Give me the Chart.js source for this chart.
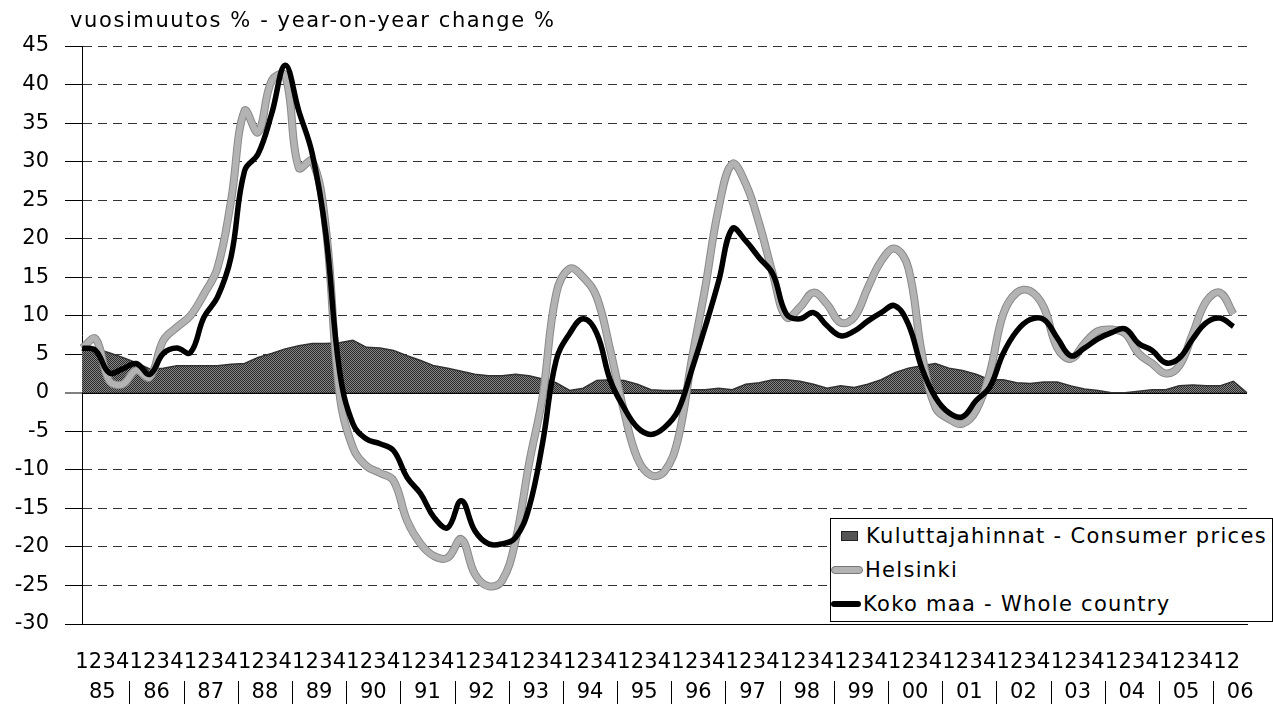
<!DOCTYPE html>
<html>
<head>
<meta charset="utf-8">
<script src="https://cdn.jsdelivr.net/npm/chart.js@4.4.1/dist/chart.umd.min.js"></script>
<style>
  body { margin: 0; background: #fff; }
  #wrap { position: relative; width: 1273px; height: 705px; font-family: "DejaVu Sans", sans-serif; color: #000; }
  #title { position: absolute; left: 70px; top: 8px; font-size: 21px; letter-spacing: 1.6px; white-space: nowrap; }
  #legend { position: absolute; left: 830px; top: 518px; width: 441px; height: 102px; border: 1px solid #000; background: #fff; font-size: 21px; }
  #legend .item { height: 34px; display: flex; align-items: center; white-space: nowrap; letter-spacing: 1.3px; }
  #legend .mark { display: inline-block; width: 30px; margin-right: 2px; }
</style>
</head>
<body>
<div id="wrap">
  <canvas id="chart" width="1273" height="705"></canvas>
  <div id="title">vuosimuutos % - year-on-year change %</div>
  <div id="legend"></div>
</div>
<script>
// years shown under the quarter digits (1985 Q1 .. 2006 Q2)
const years = ['85','86','87','88','89','90','91','92','93','94','95',
               '96','97','98','99','00','01','02','03','04','05','06'];
const quartersInLastYear = 2;

// Kuluttajahinnat - Consumer prices (area), last point closes the area at the right edge
const consumerPrices = [
  5.5, 5.7, 5.2, 4.6, 3.9, 3.1, 3.2, 3.5, 3.5, 3.5,
  3.5, 3.7, 3.8, 4.6, 5.1, 5.7, 6.1, 6.4, 6.4, 6.5,
  6.8, 5.9, 5.8, 5.5, 4.8, 4.2, 3.5, 3.2, 2.8, 2.4,
  2.2, 2.2, 2.4, 2.2, 1.8, 1.3, 0.3, 0.6, 1.6, 1.7,
  1.6, 1.1, 0.4, 0.3, 0.3, 0.4, 0.4, 0.6, 0.4, 1.1,
  1.3, 1.7, 1.7, 1.5, 1.1, 0.6, 0.9, 0.7, 1.1, 1.7,
  2.6, 3.2, 3.5, 3.8, 3.2, 2.9, 2.4, 1.7, 1.7, 1.3,
  1.2, 1.4, 1.4, 0.9, 0.5, 0.3, 0.0, 0.0, 0.2, 0.4,
  0.4, 0.9, 1.0, 0.9, 0.9, 1.5, 0
];

// Helsinki
const helsinki = [
  5.8, 7.0, 1.6, 1.1, 2.9, 2.0, 6.8, 8.5, 10.0, 12.8,
  16.2, 24.9, 36.6, 33.8, 40.5, 41.2, 29.2, 30.1, 21.4, 0.0,
  -7.1, -9.5, -10.4, -11.4, -16.6, -19.6, -21.2, -21.4, -19.0, -23.5,
  -25.1, -24.4, -19.2, -9.2, -0.5, 12.8, 16.1, 15.0, 12.4, 5.5,
  -2.3, -8.5, -10.7, -10.2, -6.0, 4.2, 13.6, 24.0, 29.7, 27.1,
  21.9, 15.4, 9.8, 11.1, 13.0, 11.5, 9.1, 9.8, 13.6, 17.1,
  18.7, 16.2, 5.1, -1.9, -3.4, -4.0, -2.3, 2.5, 10.2, 13.0,
  13.2, 11.1, 5.8, 4.4, 6.4, 8.0, 8.2, 7.7, 5.1, 3.8,
  2.5, 3.5, 7.7, 11.9, 13.0, 10.2
];

// Koko maa - Whole country
const wholeCountry = [
  5.8, 5.5, 2.6, 3.1, 3.8, 2.4, 5.1, 5.8, 5.2, 9.8,
  12.4, 17.6, 28.8, 31.0, 36.2, 42.5, 36.6, 31.0, 20.6, 3.0,
  -4.0, -6.0, -6.6, -7.5, -11.0, -13.1, -16.2, -17.5, -14.0, -17.9,
  -19.6, -19.6, -18.8, -14.9, -6.5, 4.2, 7.7, 9.6, 7.7, 1.6,
  -1.9, -4.5, -5.4, -4.5, -2.3, 2.9, 8.5, 14.5, 21.3, 19.7,
  17.5, 15.4, 10.2, 9.6, 10.4, 8.7, 7.4, 8.0, 9.3, 10.4,
  11.3, 8.9, 3.2, -0.6, -2.6, -3.1, -1.0, 0.7, 5.1, 8.0,
  9.5, 9.5, 7.1, 4.8, 5.8, 7.0, 7.8, 8.3, 6.4, 5.5,
  3.9, 4.5, 7.0, 9.1, 9.7, 8.6
];

// quarter digits along the x axis, plus one empty slot at the right edge
const quarterLabels = [];
years.forEach((y, k) => {
  const n = k === years.length - 1 ? quartersInLastYear : 4;
  for (let q = 1; q <= n; q++) quarterLabels.push(String(q));
});
quarterLabels.push('');

Chart.defaults.font.family = '"DejaVu Sans", sans-serif';
Chart.defaults.font.size = 21;
Chart.defaults.color = '#000';

// halftone-like fill for the consumer price area
function dither(c1, c2) {
  const p = document.createElement('canvas');
  p.width = 2; p.height = 2;
  const g = p.getContext('2d');
  g.fillStyle = c1; g.fillRect(0, 0, 2, 2);
  g.fillStyle = c2; g.fillRect(0, 0, 1, 1); g.fillRect(1, 1, 1, 1);
  return g.createPattern(p, 'repeat');
}

// second row of x labels: the years, with separators between them
const yearRow = {
  id: 'yearRow',
  afterDraw(chart) {
    const xs = chart.scales.x;
    const ctx = chart.ctx;
    const yMid = xs.top + 69;
    ctx.save();
    ctx.font = '21px "DejaVu Sans"';
    ctx.fillStyle = '#000';
    ctx.textAlign = 'center';
    ctx.textBaseline = 'middle';
    years.forEach((yr, k) => {
      let cx = xs.getPixelForValue(4 * k + 1.5);
      const w = ctx.measureText(yr).width;
      cx = Math.min(cx, chart.width - w / 2 - 7);
      ctx.fillText(yr, cx, yMid);
      if (k > 0) {
        const sx = Math.round(xs.getPixelForValue(4 * k - 0.5)) + 0.5;
        ctx.strokeStyle = '#000';
        ctx.lineWidth = 1;
        ctx.beginPath();
        ctx.moveTo(sx, yMid - 12);
        ctx.lineTo(sx, yMid + 11);
        ctx.stroke();
      }
    });
    ctx.restore();
  }
};

// darker rim under the Helsinki band
const bandRim = {
  id: 'bandRim',
  beforeDatasetDraw(chart, args) {
    if (args.index !== 1) return;
    const el = args.meta.dataset;
    const o = el.options;
    const c = o.borderColor, w = o.borderWidth;
    o.borderColor = '#8a8a8a';
    o.borderWidth = 8;
    el.draw(chart.ctx, chart.chartArea);
    o.borderColor = c;
    o.borderWidth = w;
  }
};

const chart = new Chart(document.getElementById('chart').getContext('2d'), {
  type: 'line',
  data: {
    labels: quarterLabels,
    datasets: [
      {
        label: 'Kuluttajahinnat - Consumer prices',
        data: consumerPrices,
        fill: 'origin',
        backgroundColor: dither('#858585', '#2a2a2a'),
        borderColor: '#333',
        borderWidth: 1.5,
        tension: 0,
        pointRadius: 0,
        order: 3
      },
      {
        label: 'Helsinki',
        data: helsinki,
        fill: false,
        borderColor: '#b3b3b3',
        borderWidth: 6,
        tension: 0.4,
        pointRadius: 0,
        order: 2
      },
      {
        label: 'Koko maa - Whole country',
        data: wholeCountry,
        fill: false,
        borderColor: '#000',
        borderWidth: 5.5,
        tension: 0.4,
        pointRadius: 0,
        order: 1
      }
    ]
  },
  options: {
    responsive: false,
    devicePixelRatio: 1,
    animation: false,
    layout: { padding: { top: 46, right: 0, left: 0, bottom: 0 } },
    scales: {
      x: {
        offset: false,
        grid: { display: false, drawTicks: false },
        border: { display: true, color: '#000', width: 1 },
        ticks: { autoSkip: false, maxRotation: 0, minRotation: 0, padding: 26, color: '#000' },
        afterFit(scale) { scale.height = 81; }
      },
      y: {
        min: -30,
        max: 45,
        ticks: { stepSize: 5, padding: 16, color: '#000' },
        grid: {
          color: ctx => ctx.tick && ctx.tick.value === 0 ? '#000' : '#333',
          lineWidth: ctx => ctx.tick && ctx.tick.value === 0 ? 2 : 1,
          tickLength: 17,
          tickColor: '#000',
          tickWidth: 1
        },
        border: {
          display: true,
          color: '#000',
          width: 1,
          dash: ctx => ctx.tick && ctx.tick.value === 0 ? [] : [9, 6]
        },
        afterFit(scale) { scale.width = 82; }
      }
    },
    plugins: {
      legend: { display: false },
      tooltip: { enabled: false }
    }
  },
  plugins: [yearRow, bandRim]
});

// legend box in the lower right corner, built from the datasets
const legendBox = document.getElementById('legend');
const marks = [
  'height:8px;width:15px;margin-left:10px;margin-right:8px;background:#555;border:1px solid #222;',
  'height:6px;background:#b3b3b3;border:1px solid #777;border-radius:4px;',
  'height:6px;background:#000;border-radius:3px;'
];
chart.data.datasets.forEach((ds, i) => {
  const row = document.createElement('div');
  row.className = 'item';
  const m = document.createElement('span');
  m.className = 'mark';
  m.style.cssText += marks[i];
  row.appendChild(m);
  row.appendChild(document.createTextNode(ds.label));
  legendBox.appendChild(row);
});
</script>
</body>
</html>
